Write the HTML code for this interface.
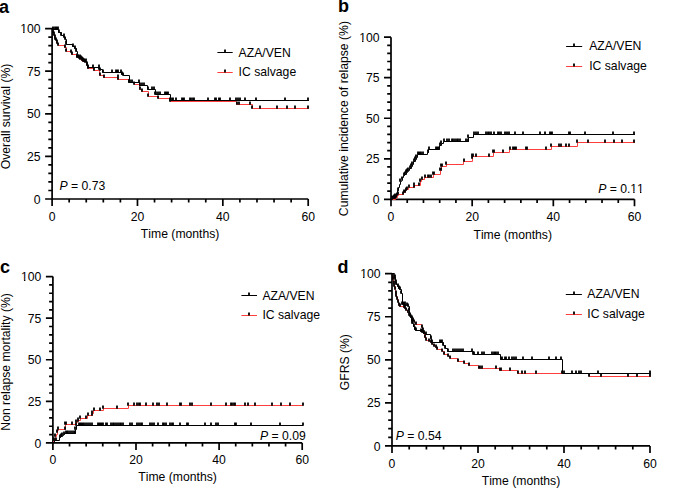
<!DOCTYPE html>
<html><head><meta charset="utf-8"><style>
html,body{margin:0;padding:0;background:#fff;width:685px;height:488px;overflow:hidden}
svg{display:block}
text{font-family:"Liberation Sans", sans-serif;font-size:12.2px;fill:#000;font-kerning:none}
</style></head><body>
<svg width="685" height="488" viewBox="0 0 685 488">
<g id="pa"><path d="M52.1 28.6V199H308.2" fill="none" stroke="#000" stroke-width="1.7"/>
<path d="M45.1 199H52.1M48.3 190.48H52.1M48.3 181.96H52.1M48.3 173.44H52.1M48.3 164.92H52.1M45.1 156.4H52.1M48.3 147.88H52.1M48.3 139.36H52.1M48.3 130.84H52.1M48.3 122.32H52.1M45.1 113.8H52.1M48.3 105.28H52.1M48.3 96.76H52.1M48.3 88.24H52.1M48.3 79.72H52.1M45.1 71.2H52.1M48.3 62.68H52.1M48.3 54.16H52.1M48.3 45.64H52.1M48.3 37.12H52.1M45.1 28.6H52.1M52.1 199V206M69.17 199V202.6M86.25 199V202.6M103.32 199V202.6M120.39 199V202.6M137.47 199V206M154.54 199V202.6M171.61 199V202.6M188.69 199V202.6M205.76 199V202.6M222.83 199V206M239.91 199V202.6M256.98 199V202.6M274.05 199V202.6M291.13 199V202.6M308.2 199V206M137.47 199V206M222.83 199V206M308.2 199V206" fill="none" stroke="#000" stroke-width="1.7"/>
<text x="40.6" y="203.6" text-anchor="end">0</text>
<text x="40.6" y="161" text-anchor="end">25</text>
<text x="40.6" y="118.4" text-anchor="end">50</text>
<text x="40.6" y="75.8" text-anchor="end">75</text>
<text x="40.6" y="33.2" text-anchor="end">100</text>
<text x="52.1" y="220.8" text-anchor="middle">0</text>
<text x="137.47" y="220.8" text-anchor="middle">20</text>
<text x="222.83" y="220.8" text-anchor="middle">40</text>
<text x="308.2" y="220.8" text-anchor="middle">60</text>
<text x="180.15" y="238.3" text-anchor="middle">Time (months)</text>
<text transform="translate(9.6 116.4) rotate(-90)" text-anchor="middle">Overall survival (%)</text>
<text x="-1" y="12.6" style="font-weight:bold;font-size:18px">a</text>
<text x="59.5" y="190.2" text-anchor="start"><tspan font-style="italic">P</tspan> = 0.73</text>
<path d="M217.4 52.5H232.7" stroke="#000" stroke-width="1"/>
<path d="M217.4 72.5H232.7" stroke="#ff3d3d" stroke-width="1"/>
<path d="M225 49.5V52.5M225 69.5V72.5" stroke="#000" stroke-width="1.8"/>
<text x="238.6" y="56.6">AZA/VEN</text>
<text x="238.6" y="76.3">IC salvage</text>
<path d="M52.5 28.5V30.5H53.5V32.5V34.5H54.5V35.5V37.5H55.5V39.5H56.5V40.5V42.5H57.5V43.5H58.5V45.5H64.5V47.5H66.5V51.5H71.5V54.5H76.5V57.5H77.5H79.5V58.5H80.5V59.5H81.5V60.5H82.5V61.5H83.5H85.5V62.5H86.5V65.5H87.5V68.5H93.5V70.5H99.5V75.5H103.5V77.5H117.5V79.5H129.5V82.5H134.5V84.5H139.5V89.5H141.5V91.5H148.5V96.5H158.5V98.5H170.5V101.5H236.5V104.5H252.5V108.5H308.5" fill="none" stroke="#ff3d3d" stroke-width="1" stroke-linecap="square"/>
<path d="M52.5 28.5V29.5H58.5V32.5H61.5V35.5H63.5V36.5H64.5V37.5H65.5V39.5H66.5V43.5V44.5H72.5V46.5H74.5V48.5H76.5V51.5H77.5V56.5H78.5V57.5H79.5H80.5V58.5H82.5V59.5H83.5V60.5H84.5V61.5H85.5H86.5V64.5H87.5V67.5H99.5V69.5H102.5V72.5H121.5V74.5H123.5V75.5H129.5V82.5H139.5V85.5H147.5V89.5H155.5V94.5H170.5V100.5H308.5" fill="none" stroke="#000" stroke-width="1" stroke-linecap="square"/>
<path d="M53 27.5V30.8M53 29.5V32.8M54 31.5V34.8M54 32.5V35.8M55 34.5V37.8M55 36.5V39.8M56 37.5V40.8M57 39.5V42.8M57 40.5V43.8M58 42.5V45.8M65 44.5V47.8M66 48.5V51.8M71 49.5V52.8M72 51.5V54.8M77 54.5V57.8M78 54.5V57.8M79 55.5V58.8M80 56.5V59.8M82 57.5V60.8M83 58.5V61.8M84 58.5V61.8M85 59.5V62.8M87 62.5V65.8M88 65.5V68.8M94 67.5V70.8M100 67.5V70.8M100 72.5V75.8M104 74.5V77.8M118 74.5V77.8M118 76.5V79.8M129 79.5V82.8M134 81.5V84.8M140 86.5V89.8M142 88.5V91.8M148 93.5V96.8M158 95.5V98.8M170 98.5V101.8M237 101.5V104.8M239 101.5V104.8M250 101.5V104.8M252 105.5V108.8M260 105.5V108.8M277 105.5V108.8M287 105.5V108.8M295 105.5V108.8M308 105.5V108.8" fill="none" stroke="#000" stroke-width="1.8"/>
<path d="M53 26.5V29.8M55 26.5V29.8M56 26.5V29.8M57 26.5V29.8M58 26.5V29.8M59 29.5V32.8M61 32.5V35.8M64 33.5V36.8M64 34.5V37.8M65 36.5V39.8M66 40.5V43.8M66 41.5V44.8M73 43.5V46.8M75 45.5V48.8M76 48.5V51.8M77 53.5V56.8M78 54.5V57.8M80 54.5V57.8M81 55.5V58.8M82 56.5V59.8M83 57.5V60.8M84 58.5V61.8M86 58.5V61.8M87 61.5V64.8M88 64.5V67.8M93 64.5V67.8M99 64.5V67.8M99 66.5V69.8M103 69.5V72.8M112 69.5V72.8M116 69.5V72.8M117 69.5V72.8M118 69.5V72.8M121 69.5V72.8M122 71.5V74.8M123 72.5V75.8M129 79.5V82.8M130 79.5V82.8M132 79.5V82.8M139 79.5V82.8M140 82.5V85.8M142 82.5V85.8M144 82.5V85.8M148 86.5V89.8M152 86.5V89.8M154 86.5V89.8M155 91.5V94.8M156 91.5V94.8M158 91.5V94.8M160 91.5V94.8M165 91.5V94.8M166 91.5V94.8M167 91.5V94.8M168 91.5V94.8M170 97.5V100.8M172 97.5V100.8M173 97.5V100.8M176 97.5V100.8M182 97.5V100.8M183 97.5V100.8M184 97.5V100.8M190 97.5V100.8M191 97.5V100.8M193 97.5V100.8M194 97.5V100.8M208 97.5V100.8M215 97.5V100.8M216 97.5V100.8M219 97.5V100.8M220 97.5V100.8M230 97.5V100.8M236 97.5V100.8M238 97.5V100.8M240 97.5V100.8M245 97.5V100.8M256 97.5V100.8M285 97.5V100.8M308 97.5V100.8" fill="none" stroke="#000" stroke-width="1.8"/></g>
<g id="pb"><path d="M391 37.2V199.3H634.5" fill="none" stroke="#000" stroke-width="1.7"/>
<path d="M384 199.3H391M387.2 191.2H391M387.2 183.09H391M387.2 174.99H391M387.2 166.88H391M384 158.78H391M387.2 150.67H391M387.2 142.56H391M387.2 134.46H391M387.2 126.36H391M384 118.25H391M387.2 110.14H391M387.2 102.04H391M387.2 93.93H391M387.2 85.83H391M384 77.72H391M387.2 69.62H391M387.2 61.51H391M387.2 53.41H391M387.2 45.31H391M384 37.2H391M391 199.3V206.3M407.23 199.3V202.9M423.47 199.3V202.9M439.7 199.3V202.9M455.93 199.3V202.9M472.17 199.3V206.3M488.4 199.3V202.9M504.63 199.3V202.9M520.87 199.3V202.9M537.1 199.3V202.9M553.33 199.3V206.3M569.57 199.3V202.9M585.8 199.3V202.9M602.03 199.3V202.9M618.27 199.3V202.9M634.5 199.3V206.3M472.17 199.3V206.3M553.33 199.3V206.3M634.5 199.3V206.3" fill="none" stroke="#000" stroke-width="1.7"/>
<text x="379.5" y="203.9" text-anchor="end">0</text>
<text x="379.5" y="163.38" text-anchor="end">25</text>
<text x="379.5" y="122.85" text-anchor="end">50</text>
<text x="379.5" y="82.32" text-anchor="end">75</text>
<text x="379.5" y="41.8" text-anchor="end">100</text>
<text x="391" y="221" text-anchor="middle">0</text>
<text x="472.17" y="221" text-anchor="middle">20</text>
<text x="553.33" y="221" text-anchor="middle">40</text>
<text x="634.5" y="221" text-anchor="middle">60</text>
<text x="512.75" y="238.5" text-anchor="middle">Time (months)</text>
<text transform="translate(347.9 118.6) rotate(-90)" text-anchor="middle">Cumulative incidence of relapse (%)</text>
<text x="338" y="12.3" style="font-weight:bold;font-size:18px">b</text>
<text x="643.9" y="192.7" text-anchor="end"><tspan font-style="italic">P</tspan> = 0.11</text>
<path d="M566.1 46.5H582.2" stroke="#000" stroke-width="1"/>
<path d="M566.1 66.5H582.2" stroke="#ff3d3d" stroke-width="1"/>
<path d="M574 43.5V46.5M574 63.5V66.5" stroke="#000" stroke-width="1.8"/>
<text x="589.2" y="49.9">AZA/VEN</text>
<text x="589.2" y="70">IC salvage</text>
<path d="M391.5 199.5H395.5V198.5H396.5V197.5H397.5V195.5H398.5V194.5H403.5V192.5H405.5V190.5H406.5V189.5H408.5V187.5H414.5V185.5H420.5V181.5H421.5V179.5H424.5V177.5H433.5V174.5H440.5V170.5H441.5V166.5H446.5V164.5H463.5V161.5H472.5V156.5H493.5V152.5H509.5V149.5H551.5V146.5H577.5V142.5H634.5" fill="none" stroke="#ff3d3d" stroke-width="1" stroke-linecap="square"/>
<path d="M391.5 199.5H392.5V198.5H393.5H394.5V197.5H395.5V196.5H396.5V193.5H397.5V190.5H398.5V187.5H399.5V184.5H400.5V181.5H401.5V180.5H402.5V178.5V177.5H403.5V175.5H404.5V174.5H406.5V172.5H407.5V171.5H408.5V170.5H409.5V168.5H411.5V166.5H412.5V164.5H413.5V161.5H415.5V159.5H416.5V157.5H417.5V154.5H427.5V152.5H428.5V149.5H439.5V145.5H441.5V143.5H443.5V141.5H468.5V137.5H473.5V134.5H634.5" fill="none" stroke="#000" stroke-width="1" stroke-linecap="square"/>
<path d="M395 195.5V198.8M396 194.5V197.8M397 192.5V195.8M398 191.5V194.8M403 191.5V194.8M404 189.5V192.8M405 189.5V192.8M406 187.5V190.8M407 186.5V189.8M409 184.5V187.8M414 182.5V185.8M414 184.5V187.8M419 182.5V185.8M420 178.5V181.8M422 176.5V179.8M425 174.5V177.8M428 174.5V177.8M429 174.5V177.8M431 174.5V177.8M433 171.5V174.8M434 171.5V174.8M440 167.5V170.8M441 163.5V166.8M441 167.5V170.8M442 163.5V166.8M446 161.5V164.8M464 158.5V161.8M472 153.5V156.8M472 155.5V158.8M473 153.5V156.8M476 153.5V156.8M489 153.5V156.8M493 149.5V152.8M494 149.5V152.8M503 149.5V152.8M510 146.5V149.8M513 146.5V149.8M514 146.5V149.8M515 146.5V149.8M516 146.5V149.8M526 146.5V149.8M527 146.5V149.8M546 146.5V149.8M551 143.5V146.8M559 143.5V146.8M561 143.5V146.8M566 143.5V146.8M569 143.5V146.8M577 139.5V142.8M588 139.5V142.8M605 139.5V142.8M614 139.5V142.8M622 139.5V142.8M634 139.5V142.8" fill="none" stroke="#000" stroke-width="1.8"/>
<path d="M392 195.5V198.8M393 195.5V198.8M394 194.5V197.8M395 193.5V196.8M398 187.5V190.8M400 178.5V181.8M402 176.5V179.8M404 172.5V175.8M405 171.5V174.8M406 169.5V172.8M407 168.5V171.8M408 167.5V170.8M410 165.5V168.8M411 163.5V166.8M412 161.5V164.8M414 158.5V161.8M415 156.5V159.8M416 154.5V157.8M418 151.5V154.8M419 151.5V154.8M420 151.5V154.8M421 151.5V154.8M423 151.5V154.8M428 149.5V152.8M429 146.5V149.8M436 146.5V149.8M437 146.5V149.8M438 146.5V149.8M439 146.5V149.8M440 142.5V145.8M441 140.5V143.8M444 138.5V141.8M447 138.5V141.8M449 138.5V141.8M452 138.5V141.8M453 138.5V141.8M455 138.5V141.8M457 138.5V141.8M458 138.5V141.8M460 138.5V141.8M466 138.5V141.8M468 134.5V137.8M468 138.5V141.8M474 131.5V134.8M476 131.5V134.8M478 131.5V134.8M486 131.5V134.8M488 131.5V134.8M489 131.5V134.8M491 131.5V134.8M494 131.5V134.8M498 131.5V134.8M499 131.5V134.8M501 131.5V134.8M505 131.5V134.8M507 131.5V134.8M509 131.5V134.8M515 131.5V134.8M523 131.5V134.8M540 131.5V134.8M545 131.5V134.8M550 131.5V134.8M551 131.5V134.8M552 131.5V134.8M569 131.5V134.8M570 131.5V134.8M585 131.5V134.8M613 131.5V134.8M634 131.5V134.8" fill="none" stroke="#000" stroke-width="1.8"/></g>
<g id="pc"><path d="M52.9 276.6V442.9H302.2" fill="none" stroke="#000" stroke-width="1.7"/>
<path d="M45.9 442.9H52.9M49.1 434.58H52.9M49.1 426.27H52.9M49.1 417.95H52.9M49.1 409.64H52.9M45.9 401.32H52.9M49.1 393.01H52.9M49.1 384.69H52.9M49.1 376.38H52.9M49.1 368.06H52.9M45.9 359.75H52.9M49.1 351.44H52.9M49.1 343.12H52.9M49.1 334.81H52.9M49.1 326.49H52.9M45.9 318.18H52.9M49.1 309.86H52.9M49.1 301.55H52.9M49.1 293.23H52.9M49.1 284.92H52.9M45.9 276.6H52.9M52.9 442.9V449.9M69.52 442.9V446.5M86.14 442.9V446.5M102.76 442.9V446.5M119.38 442.9V446.5M136 442.9V449.9M152.62 442.9V446.5M169.24 442.9V446.5M185.86 442.9V446.5M202.48 442.9V446.5M219.1 442.9V449.9M235.72 442.9V446.5M252.34 442.9V446.5M268.96 442.9V446.5M285.58 442.9V446.5M302.2 442.9V449.9M136 442.9V449.9M219.1 442.9V449.9M302.2 442.9V449.9" fill="none" stroke="#000" stroke-width="1.7"/>
<text x="41.4" y="447.5" text-anchor="end">0</text>
<text x="41.4" y="405.93" text-anchor="end">25</text>
<text x="41.4" y="364.35" text-anchor="end">50</text>
<text x="41.4" y="322.78" text-anchor="end">75</text>
<text x="41.4" y="281.2" text-anchor="end">100</text>
<text x="52.9" y="464.1" text-anchor="middle">0</text>
<text x="136" y="464.1" text-anchor="middle">20</text>
<text x="219.1" y="464.1" text-anchor="middle">40</text>
<text x="302.2" y="464.1" text-anchor="middle">60</text>
<text x="177.55" y="481.1" text-anchor="middle">Time (months)</text>
<text transform="translate(9.7 361.9) rotate(-90)" text-anchor="middle">Non relapse mortality (%)</text>
<text x="0" y="273.4" style="font-weight:bold;font-size:18px">c</text>
<text x="305.8" y="439.7" text-anchor="end"><tspan font-style="italic">P</tspan> = 0.09</text>
<path d="M241.4 295.5H257" stroke="#000" stroke-width="1"/>
<path d="M241.4 315.5H257" stroke="#ff3d3d" stroke-width="1"/>
<path d="M249 292.5V295.5M249 312.5V315.5" stroke="#000" stroke-width="1.8"/>
<text x="262.4" y="299.7">AZA/VEN</text>
<text x="262.4" y="319.4">IC salvage</text>
<path d="M52.5 442.5H53.5V441.5H54.5V439.5H55.5V437.5V436.5H56.5V434.5H57.5V432.5V430.5H58.5V429.5H65.5V424.5H76.5V422.5H77.5V420.5H80.5V418.5H87.5V415.5H92.5V413.5H93.5V410.5H103.5V408.5H128.5V405.5H302.5" fill="none" stroke="#ff3d3d" stroke-width="1" stroke-linecap="square"/>
<path d="M52.5 442.5H54.5V440.5H59.5V437.5H60.5V436.5H62.5V435.5H63.5V434.5H64.5V433.5H75.5V429.5H76.5V425.5H302.5" fill="none" stroke="#000" stroke-width="1" stroke-linecap="square"/>
<path d="M55 433.5V436.8M57 429.5V432.8M58 426.5V429.8M65 421.5V424.8M65 426.5V429.8M66 421.5V424.8M72 421.5V424.8M76 419.5V422.8M78 417.5V420.8M78 418.5V421.8M80 415.5V418.8M86 415.5V418.8M88 412.5V415.8M92 410.5V413.8M92 412.5V415.8M94 407.5V410.8M100 407.5V410.8M103 405.5V408.8M117 405.5V408.8M128 402.5V405.8M134 402.5V405.8M137 402.5V405.8M139 402.5V405.8M140 402.5V405.8M146 402.5V405.8M153 402.5V405.8M157 402.5V405.8M159 402.5V405.8M167 402.5V405.8M180 402.5V405.8M181 402.5V405.8M190 402.5V405.8M192 402.5V405.8M211 402.5V405.8M226 402.5V405.8M231 402.5V405.8M232 402.5V405.8M234 402.5V405.8M235 402.5V405.8M245 402.5V405.8M248 402.5V405.8M255 402.5V405.8M272 402.5V405.8M281 402.5V405.8M290 402.5V405.8M303 402.5V405.8" fill="none" stroke="#000" stroke-width="1.8"/>
<path d="M54 437.5V440.8M56 437.5V440.8M60 434.5V437.8M61 433.5V436.8M62 432.5V435.8M64 431.5V434.8M66 430.5V433.8M67 430.5V433.8M68 430.5V433.8M70 430.5V433.8M72 430.5V433.8M74 430.5V433.8M75 426.5V429.8M75 430.5V433.8M76 422.5V425.8M79 422.5V425.8M80 422.5V425.8M81 422.5V425.8M82 422.5V425.8M83 422.5V425.8M84 422.5V425.8M86 422.5V425.8M88 422.5V425.8M90 422.5V425.8M92 422.5V425.8M98 422.5V425.8M99 422.5V425.8M100 422.5V425.8M101 422.5V425.8M102 422.5V425.8M103 422.5V425.8M106 422.5V425.8M107 422.5V425.8M111 422.5V425.8M113 422.5V425.8M114 422.5V425.8M116 422.5V425.8M118 422.5V425.8M120 422.5V425.8M121 422.5V425.8M123 422.5V425.8M130 422.5V425.8M132 422.5V425.8M137 422.5V425.8M139 422.5V425.8M141 422.5V425.8M142 422.5V425.8M150 422.5V425.8M152 422.5V425.8M154 422.5V425.8M158 422.5V425.8M163 422.5V425.8M164 422.5V425.8M166 422.5V425.8M170 422.5V425.8M172 422.5V425.8M173 422.5V425.8M180 422.5V425.8M187 422.5V425.8M188 422.5V425.8M205 422.5V425.8M211 422.5V425.8M216 422.5V425.8M218 422.5V425.8M235 422.5V425.8M236 422.5V425.8M251 422.5V425.8M280 422.5V425.8M303 422.5V425.8" fill="none" stroke="#000" stroke-width="1.8"/></g>
<g id="pd"><path d="M392 273.7V445.9H650" fill="none" stroke="#000" stroke-width="1.7"/>
<path d="M385 445.9H392M388.2 437.29H392M388.2 428.68H392M388.2 420.07H392M388.2 411.46H392M385 402.85H392M388.2 394.24H392M388.2 385.63H392M388.2 377.02H392M388.2 368.41H392M385 359.8H392M388.2 351.19H392M388.2 342.58H392M388.2 333.97H392M388.2 325.36H392M385 316.75H392M388.2 308.14H392M388.2 299.53H392M388.2 290.92H392M388.2 282.31H392M385 273.7H392M392 445.9V452.9M409.2 445.9V449.5M426.4 445.9V449.5M443.6 445.9V449.5M460.8 445.9V449.5M478 445.9V452.9M495.2 445.9V449.5M512.4 445.9V449.5M529.6 445.9V449.5M546.8 445.9V449.5M564 445.9V452.9M581.2 445.9V449.5M598.4 445.9V449.5M615.6 445.9V449.5M632.8 445.9V449.5M650 445.9V452.9M478 445.9V452.9M564 445.9V452.9M650 445.9V452.9" fill="none" stroke="#000" stroke-width="1.7"/>
<text x="380.5" y="450.5" text-anchor="end">0</text>
<text x="380.5" y="407.45" text-anchor="end">25</text>
<text x="380.5" y="364.4" text-anchor="end">50</text>
<text x="380.5" y="321.35" text-anchor="end">75</text>
<text x="380.5" y="278.3" text-anchor="end">100</text>
<text x="392" y="467.7" text-anchor="middle">0</text>
<text x="478" y="467.7" text-anchor="middle">20</text>
<text x="564" y="467.7" text-anchor="middle">40</text>
<text x="650" y="467.7" text-anchor="middle">60</text>
<text x="521" y="485.3" text-anchor="middle">Time (months)</text>
<text transform="translate(348.7 362.2) rotate(-90)" text-anchor="middle">GFRS (%)</text>
<text x="337.6" y="272.5" style="font-weight:bold;font-size:18px">d</text>
<text x="395.7" y="439.7" text-anchor="start"><tspan font-style="italic">P</tspan> = 0.54</text>
<path d="M565.8 294.5H581.9" stroke="#000" stroke-width="1"/>
<path d="M565.8 314.5H581.9" stroke="#ff3d3d" stroke-width="1"/>
<path d="M574 291.5V294.5M574 311.5V314.5" stroke="#000" stroke-width="1.8"/>
<text x="587.3" y="297.8">AZA/VEN</text>
<text x="587.3" y="317.7">IC salvage</text>
<path d="M392.5 273.5V276.5H393.5V279.5V283.5H394.5V286.5H395.5V289.5V293.5H396.5V296.5H397.5V299.5H398.5V302.5V305.5H399.5V306.5H403.5V307.5H404.5V308.5H406.5V310.5H407.5V312.5H409.5V315.5H410.5V316.5H411.5V318.5H413.5V320.5H414.5V322.5H415.5V324.5H421.5V327.5H422.5V330.5H423.5V333.5H424.5V337.5H426.5V340.5H429.5V341.5H430.5V342.5H432.5V344.5H434.5V346.5H435.5V347.5H437.5V349.5H442.5V351.5H444.5V354.5H448.5V356.5H450.5V358.5H457.5V361.5H464.5V363.5H468.5V365.5H478.5V368.5H499.5V370.5H517.5V373.5H589.5V376.5H650.5" fill="none" stroke="#ff3d3d" stroke-width="1" stroke-linecap="square"/>
<path d="M392.5 273.5H394.5V274.5V277.5H395.5V279.5V282.5H396.5V284.5H397.5V286.5H398.5V288.5H399.5V289.5H401.5V293.5H402.5V304.5H405.5V305.5H406.5H408.5V306.5H409.5V310.5V315.5H410.5V317.5H411.5V320.5H412.5V323.5H413.5V326.5H414.5V329.5H415.5V330.5H420.5V331.5H422.5V332.5H423.5V333.5H425.5V334.5H430.5V338.5H431.5V342.5H443.5V345.5H445.5V348.5H447.5V351.5H473.5V354.5H500.5V359.5H562.5V373.5H650.5" fill="none" stroke="#000" stroke-width="1" stroke-linecap="square"/>
<path d="M393 273.5V276.8M393 276.5V279.8M394 280.5V283.8M394 283.5V286.8M395 286.5V289.8M396 290.5V293.8M396 293.5V296.8M397 296.5V299.8M398 299.5V302.8M399 302.5V305.8M400 303.5V306.8M404 304.5V307.8M405 305.5V308.8M406 307.5V310.8M408 309.5V312.8M409 312.5V315.8M410 313.5V316.8M412 315.5V318.8M413 317.5V320.8M414 319.5V322.8M416 321.5V324.8M422 324.5V327.8M423 327.5V330.8M424 330.5V333.8M425 334.5V337.8M426 337.5V340.8M429 338.5V341.8M431 339.5V342.8M432 341.5V344.8M434 343.5V346.8M436 344.5V347.8M437 346.5V349.8M442 348.5V351.8M444 351.5V354.8M448 353.5V356.8M450 355.5V358.8M458 358.5V361.8M464 360.5V363.8M469 362.5V365.8M479 365.5V368.8M480 365.5V368.8M482 365.5V368.8M496 365.5V368.8M500 367.5V370.8M501 367.5V370.8M510 367.5V370.8M518 370.5V373.8M522 370.5V373.8M525 370.5V373.8M536 370.5V373.8M564 370.5V373.8M572 370.5V373.8M576 370.5V373.8M579 370.5V373.8M581 370.5V373.8M589 373.5V376.8M601 373.5V376.8M628 373.5V376.8M637 373.5V376.8M650 373.5V376.8" fill="none" stroke="#000" stroke-width="1.8"/>
<path d="M395 274.5V277.8M395 276.5V279.8M396 279.5V282.8M396 281.5V284.8M398 283.5V286.8M399 285.5V288.8M400 286.5V289.8M401 290.5V293.8M402 301.5V304.8M403 301.5V304.8M404 301.5V304.8M405 301.5V304.8M405 302.5V305.8M407 302.5V305.8M408 303.5V306.8M409 307.5V310.8M410 312.5V315.8M411 314.5V317.8M412 317.5V320.8M412 320.5V323.8M414 323.5V326.8M415 326.5V329.8M416 327.5V330.8M421 328.5V331.8M422 328.5V331.8M422 329.5V332.8M424 330.5V333.8M426 331.5V334.8M431 335.5V338.8M432 339.5V342.8M440 339.5V342.8M441 339.5V342.8M442 339.5V342.8M443 342.5V345.8M445 345.5V348.8M448 348.5V351.8M453 348.5V351.8M455 348.5V351.8M457 348.5V351.8M459 348.5V351.8M461 348.5V351.8M463 348.5V351.8M472 348.5V351.8M473 351.5V354.8M474 351.5V354.8M478 351.5V354.8M482 351.5V354.8M484 351.5V354.8M492 351.5V354.8M494 351.5V354.8M495 351.5V354.8M496 351.5V354.8M498 351.5V354.8M501 356.5V359.8M502 356.5V359.8M505 356.5V359.8M506 356.5V359.8M509 356.5V359.8M512 356.5V359.8M514 356.5V359.8M516 356.5V359.8M523 356.5V359.8M532 356.5V359.8M549 356.5V359.8M556 356.5V359.8M561 356.5V359.8M562 370.5V373.8M598 370.5V373.8M650 370.5V373.8" fill="none" stroke="#000" stroke-width="1.8"/></g>
<g id="fix1"><rect x="19.96" y="31.74" width="3.19" height="2.06" fill="#fff"/><rect x="24.57" y="31.74" width="2.71" height="2.06" fill="#fff"/><rect x="358.86" y="40.34" width="3.19" height="2.06" fill="#fff"/><rect x="363.47" y="40.34" width="2.71" height="2.06" fill="#fff"/><rect x="630.02" y="191.24" width="3.19" height="2.06" fill="#fff"/><rect x="634.63" y="191.24" width="2.71" height="2.06" fill="#fff"/><rect x="636.8" y="191.24" width="3.19" height="2.06" fill="#fff"/><rect x="641.41" y="191.24" width="2.71" height="2.06" fill="#fff"/><rect x="20.76" y="279.74" width="3.19" height="2.06" fill="#fff"/><rect x="25.37" y="279.74" width="2.71" height="2.06" fill="#fff"/><rect x="359.86" y="276.84" width="3.19" height="2.06" fill="#fff"/><rect x="364.47" y="276.84" width="2.71" height="2.06" fill="#fff"/></g>
</svg></body></html>
